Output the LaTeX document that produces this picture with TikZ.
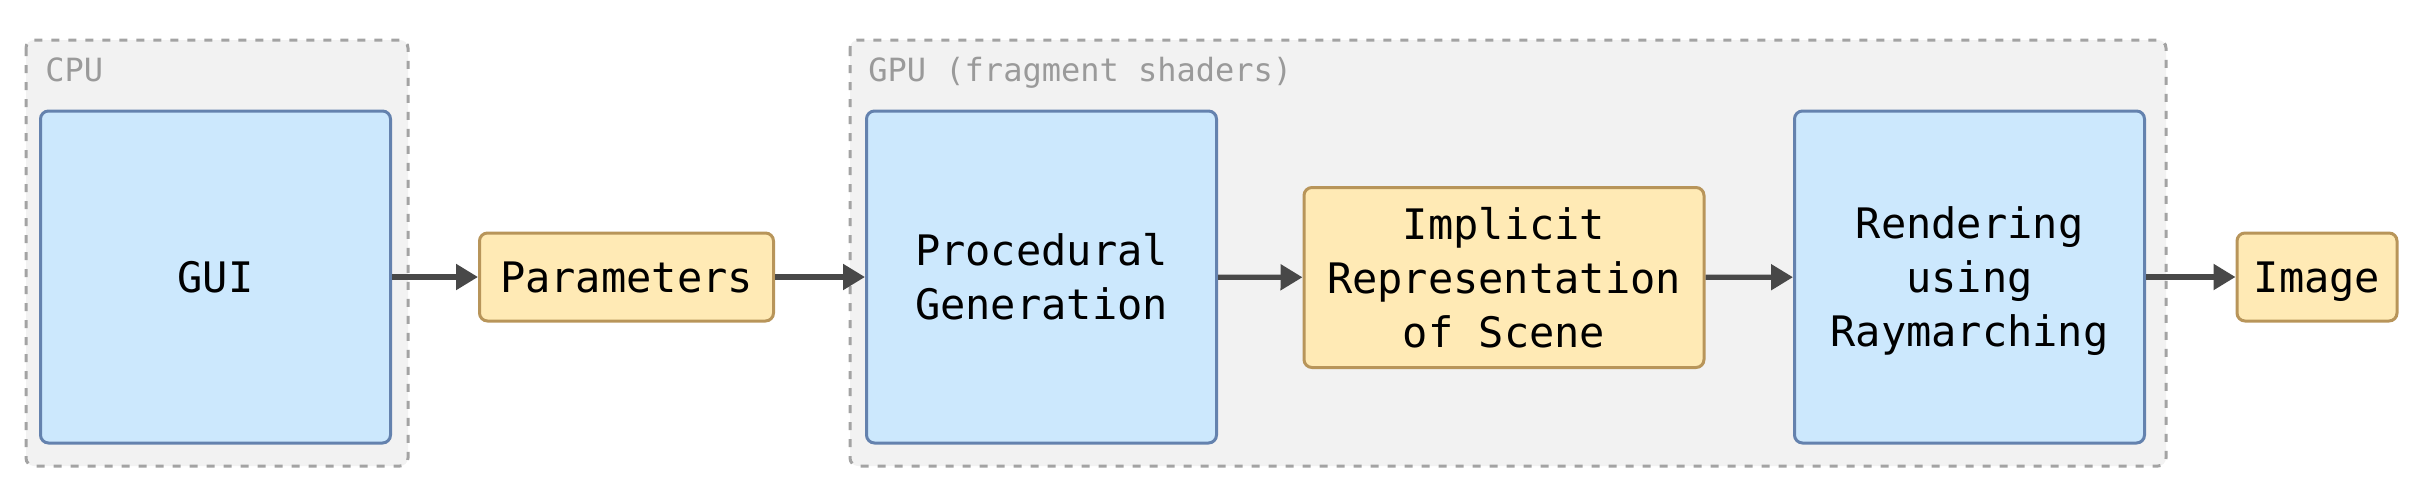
\documentclass[tikz,border=0pt]{standalone}
\usepackage{fontspec}
\setmonofont{DejaVu Sans Mono}
\usetikzlibrary{arrows.meta}

\definecolor{blockfill}{HTML}{CCE8FD}
\definecolor{blockline}{HTML}{6482AE}
\definecolor{datafill}{HTML}{FFEAB5}
\definecolor{dataline}{HTML}{B8955A}
\definecolor{clusterfill}{HTML}{F2F2F2}
\definecolor{clusterline}{HTML}{A3A3A3}
\definecolor{labelgray}{HTML}{9A9A9A}
\definecolor{flowgray}{HTML}{484848}

\tikzset{
  block/.style={draw=blockline, fill=blockfill, line width=1.5pt, rounded corners=4pt,
    align=center, inner sep=0pt, minimum width=175pt, minimum height=166pt,
    font=\ttfamily\fontsize{21}{27}\selectfont},
  datum/.style={draw=dataline, fill=datafill, line width=1.5pt, rounded corners=4pt,
    align=center, inner sep=0pt, minimum height=44pt,
    font=\ttfamily\fontsize{21}{27}\selectfont},
  cluster/.style={draw=clusterline, fill=clusterfill, line width=1.5pt,
    dash pattern=on 4pt off 4.5pt, rounded corners=4pt},
  clusterlabel/.style={anchor=base west, text=labelgray, inner sep=0pt,
    font=\ttfamily\fontsize{16}{18}\selectfont},
  flow/.style={draw=flowgray, line width=2.6pt, -{Triangle[length=11pt,width=12.5pt]}}
}

\begin{document}
\begin{tikzpicture}[x=0.5pt,y=-0.5pt]
    \useasboundingbox (0,0) rectangle (2422,503);

    % the two groups
    \draw[cluster] (26,40) rectangle (408,466);
    \draw[cluster] (850,40) rectangle (2166,466);
    \node[clusterlabel] (cpu) at (45,81) {CPU};
    \node[clusterlabel] (gpu) at (868,81) {GPU (fragment shaders)};

    % stages
    \node[block] (gui) at (215.5,277) {GUI};
    \node[datum, minimum width=147pt] (params) at (626.5,277) {Parameters};
    \node[block] (procgen) at (1041.5,277) {Procedural\\Generation};
    \node[datum, minimum width=200pt, minimum height=90pt] (implicit) at (1504,277.5)
        {Implicit\\Representation\\of Scene};
    \node[block, text depth=0pt] (render) at (1969.5,277) {Rendering\\using\\Raymarching};
    \node[datum, minimum width=80pt, text depth=0pt] (image) at (2317,277) {Image};

    \draw[flow] (gui) -- (params);
    \draw[flow] (params) -- (procgen);
    \draw[flow] (procgen) -- (implicit);
    \draw[flow] (implicit) -- (render);
    \draw[flow] (render) -- (image);
\end{tikzpicture}
\end{document}
